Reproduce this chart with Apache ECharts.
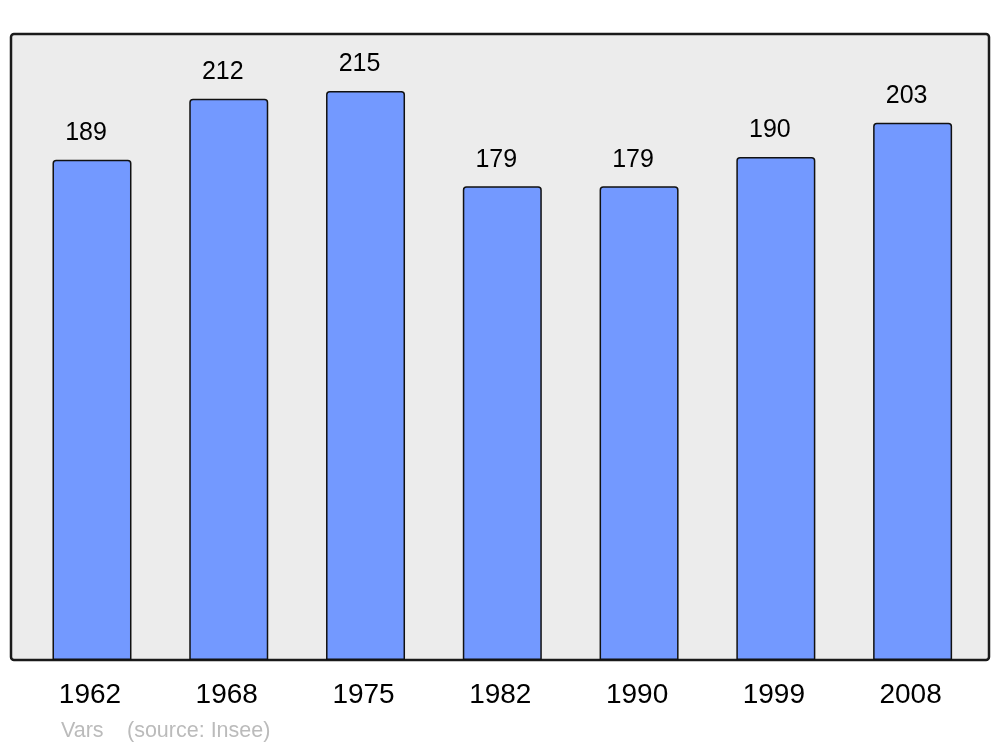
<!DOCTYPE html>
<html>
<head>
<meta charset="utf-8">
<script src="https://cdn.jsdelivr.net/npm/echarts@6/dist/echarts.min.js"></script>
<style>
html,body{margin:0;padding:0;background:#fff;}
#chart{width:1000px;height:747px;}
</style>
</head>
<body>
<div id="chart"></div>
<script>
const years = ['1962','1968','1975','1982','1990','1999','2008'];
const population = [189, 212, 215, 179, 179, 190, 203];
const placeName = 'Vars';
const sourceText = '(source: Insee)';

const chart = echarts.init(document.getElementById('chart'), null, {renderer: 'canvas'});
chart.setOption({
  animation: false,
  backgroundColor: '#ffffff',
  textStyle: {fontFamily: 'Liberation Sans, Arial, sans-serif'},
  grid: {left: 23.6, right: 19, top: 34, bottom: 87, containLabel: false},
  graphic: [
    {
      type: 'rect', z: -10, silent: true,
      shape: {x: 11, y: 34, width: 978, height: 626, r: 3},
      style: {fill: '#ececec', stroke: '#1a1a1a', lineWidth: 2.5}
    },
    {
      type: 'text', left: 61, top: 720, silent: true,
      style: {text: placeName, fill: '#bbbbbb', font: '21.5px "Liberation Sans", Arial, sans-serif'}
    },
    {
      type: 'text', left: 127, top: 720, silent: true,
      style: {text: sourceText, fill: '#bbbbbb', font: '21.5px "Liberation Sans", Arial, sans-serif'}
    }
  ],
  xAxis: {
    type: 'category',
    data: years,
    axisLine: {show: false},
    axisTick: {show: false},
    axisLabel: {color: '#000', fontSize: 28, margin: 21, padding: [0, 4, 0, 0], fontFamily: 'Liberation Sans'}
  },
  yAxis: {
    type: 'value', min: 0, max: 236.5,
    show: false,
    splitLine: {show: false}
  },
  series: [{
    type: 'bar',
    data: population,
    barWidth: 79,
    itemStyle: {color: '#7399ff', borderColor: '#111', borderWidth: 1.5, borderRadius: [3,3,0,0]},
    label: {show: true, position: 'top', distance: 14, offset: [-6, 0], color: '#000', fontSize: 25, fontFamily: 'Liberation Sans'}
  }]
});
</script>
</body>
</html>
